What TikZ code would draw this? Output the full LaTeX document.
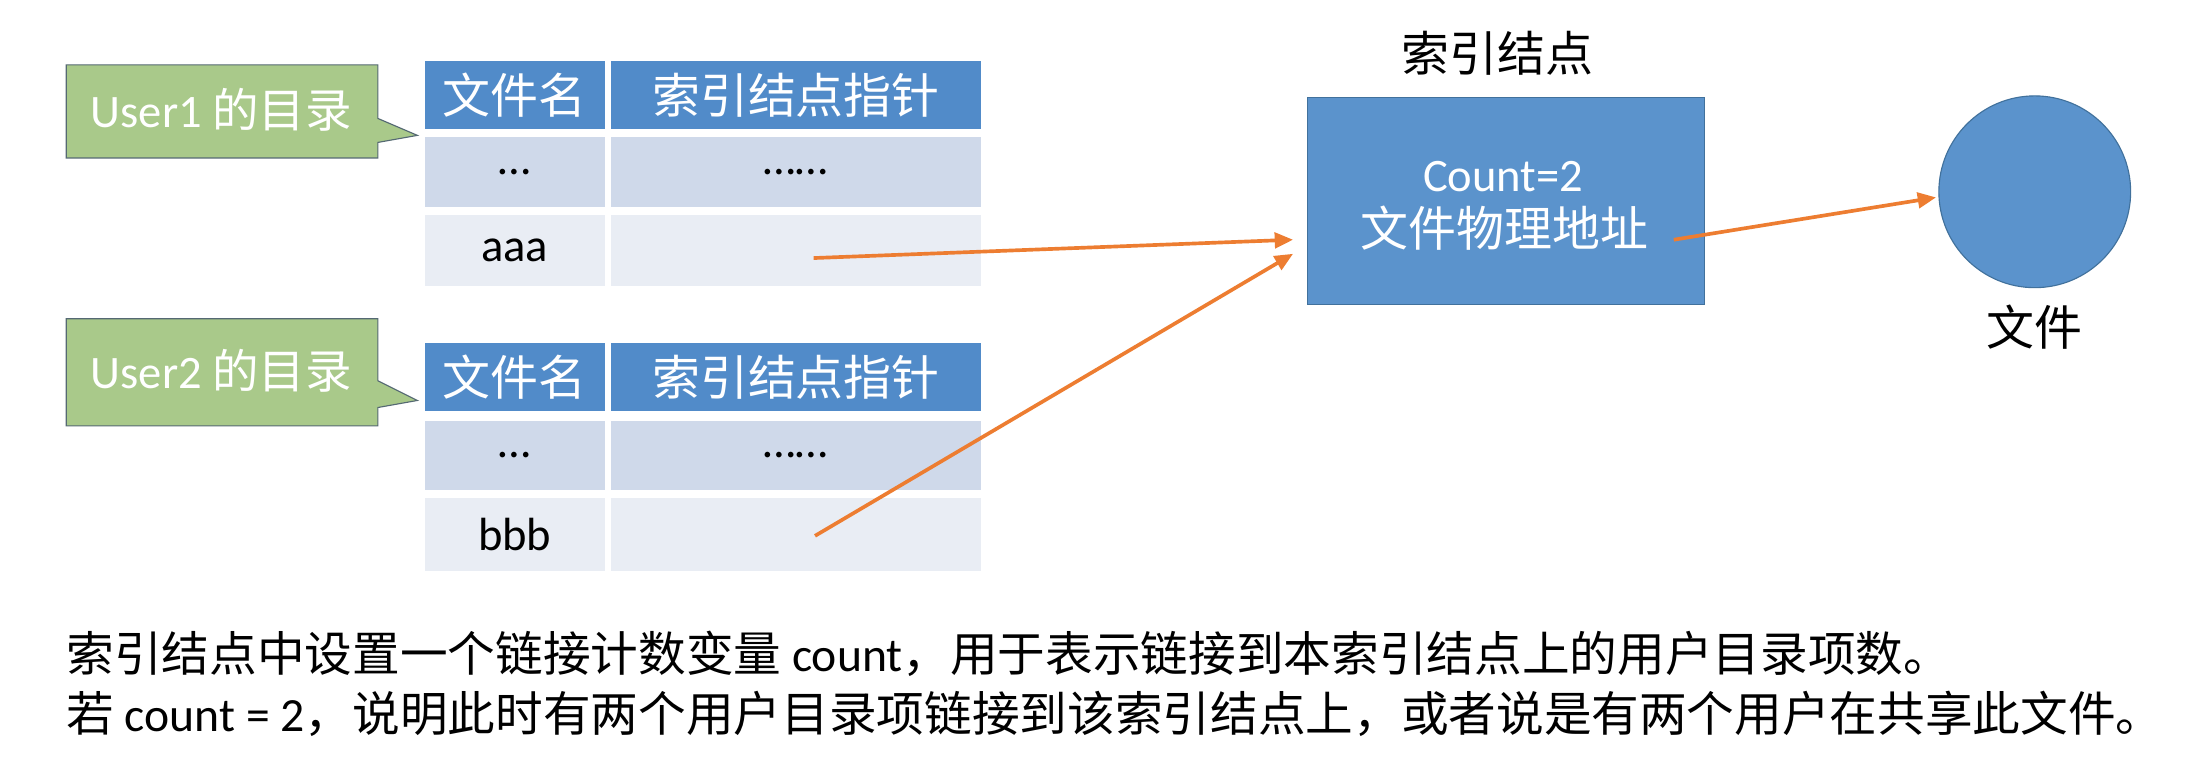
\documentclass[tikz,border=0pt]{standalone}
\usepackage{fontspec}
\setmainfont{Noto Sans CJK SC}
\newfontfamily\lat{Carlito}
\usetikzlibrary{arrows.meta}
\definecolor{hdr}{RGB}{81,139,201}
\definecolor{rowa}{RGB}{207,217,234}
\definecolor{rowb}{RGB}{233,237,244}
\definecolor{boxblue}{RGB}{91,147,204}
\definecolor{boxedge}{RGB}{65,113,156}
\definecolor{calfill}{RGB}{169,201,138}
\definecolor{caledge}{RGB}{85,105,115}
\definecolor{arr}{RGB}{237,125,49}
\begin{document}
\begin{tikzpicture}[x=1pt,y=-1pt,
  cellbox/.style={draw=white, line width=2.5pt, inner sep=0pt, anchor=center},
  hdrcell/.style={cellbox, fill=hdr, text=white, font=\fontsize{34}{40}\selectfont},
  acell/.style={cellbox, fill=rowa, font=\lat\fontsize{33}{38}\selectfont},
  bcell/.style={cellbox, fill=rowb, font=\lat\fontsize{33}{38}\selectfont},
  colA/.style={minimum width=130pt},
  colB/.style={minimum width=265pt},
  callout/.style={fill=calfill, draw=caledge, line width=0.8pt},
  caltext/.style={text=white, inner sep=0pt, font=\fontsize{33}{38}\selectfont},
  plain/.style={inner sep=0pt, font=\fontsize{34}{40}\selectfont},
  bottomtext/.style={inner sep=0pt, font=\fontsize{33.8}{40}\selectfont},
  link/.style={draw=arr, line width=2.6pt, -{Triangle[length=13pt,width=11pt]}},
  bluefill/.style={fill=boxblue, draw=boxedge, line width=0.8pt}
]
\useasboundingbox (0,0) rectangle (1568,547);
\fill[white] (0,0) rectangle (1568,547);

% ---------- Table 1 ----------
\node[hdrcell, colA, minimum height=51pt] (t1h1) at (365,67.5) {文件名};
\node[hdrcell, colB, minimum height=51pt] (t1h2) at (564.5,67.5) {索引结点指针};
\node[acell, colA, minimum height=52pt] (t1r1a) at (365,122) {…};
\node[acell, colB, minimum height=52pt] (t1r1b) at (564.5,122) {……};
\node[bcell, colA, minimum height=53pt] (t1r2a) at (365,177.5) {aaa};
\node[bcell, colB, minimum height=53pt] (t1r2b) at (564.5,177.5) {};

% ---------- Table 2 ----------
\node[hdrcell, colA, minimum height=51pt] (t2h1) at (365,267.5) {文件名};
\node[hdrcell, colB, minimum height=51pt] (t2h2) at (564.5,267.5) {索引结点指针};
\node[acell, colA, minimum height=52pt] (t2r1a) at (365,323) {…};
\node[acell, colB, minimum height=52pt] (t2r1b) at (564.5,323) {……};
\node[bcell, colA, minimum height=54pt] (t2r2a) at (365,379) {bbb};
\node[bcell, colB, minimum height=54pt] (t2r2b) at (564.5,379) {};

% ---------- Callouts ----------
\draw[callout] (47,46) -- (268,46) -- (268,84) -- (296,96) -- (268,101) -- (268,112) -- (47,112) -- cycle;
\node[caltext] (u1) at (157,78) {{\lat User1} 的目录};
\draw[callout] (47,226) -- (268,226) -- (268,270) -- (296,284) -- (268,289) -- (268,302) -- (47,302) -- cycle;
\node[caltext] (u2) at (157,263) {{\lat User2} 的目录};

% ---------- Index node ----------
\node[plain] (iblabel) at (1062,38) {索引结点};
\node[bluefill, minimum width=282pt, minimum height=147pt, inner sep=0pt] (ib) at (1068,142.5) {};
\node[inner sep=0pt, text=white, font=\lat\fontsize{33}{38}\selectfont] (cnt) at (1066,125) {Count=2};
\node[inner sep=0pt, text=white, font=\fontsize{34}{40}\selectfont] (addr) at (1067,162) {文件物理地址};

% ---------- File ----------
\node[bluefill, circle, minimum size=136pt, inner sep=0pt] (file) at (1443,136) {};
\node[plain] (filelabel) at (1443,232) {文件};

% ---------- Arrows ----------
\coordinate (a1s) at (577,183);
\coordinate (a1e) at (917,170);
\coordinate (a2s) at (578,380);
\coordinate (a2e) at (917,180);
\coordinate (a3s) at (1187,170);
\coordinate (a3e) at (1373,140);
\draw[link] (a1s) -- (a1e);
\draw[link] (a2s) -- (a2e);
\draw[link] (a3s) -- (a3e);

% ---------- Bottom text ----------
\node[bottomtext, anchor=west] (line1) at (47,464) {索引结点中设置一个链接计数变量 {\lat count}，用于表示链接到本索引结点上的用户目录项数。};
\node[bottomtext, anchor=west] (line2) at (47,506) {若 {\lat count = 2}，说明此时有两个用户目录项链接到该索引结点上，或者说是有两个用户在共享此文件。};
\end{tikzpicture}
\end{document}
